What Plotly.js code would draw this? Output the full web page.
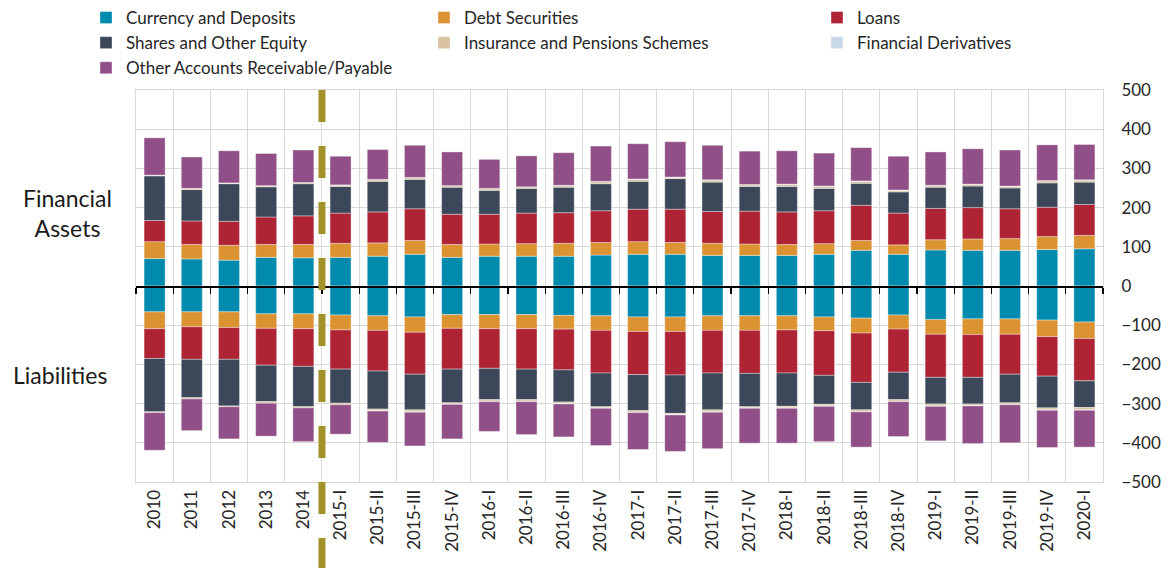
<!DOCTYPE html>
<html>
<head>
<meta charset="utf-8">
<script src="https://cdn.plot.ly/plotly-3.0.1.min.js"></script>
<style>html,body{margin:0;padding:0;background:#fff;}#chart{width:1170px;height:568px;}</style>
</head>
<body>
<div id="chart"></div>
<script>
const categories = ['2010','2011','2012','2013','2014','2015-I','2015-II','2015-III','2015-IV','2016-I','2016-II','2016-III','2016-IV','2017-I','2017-II','2017-III','2017-IV','2018-I','2018-II','2018-III','2018-IV','2019-I','2019-II','2019-III','2019-IV','2020-I'];

const seriesNames = ['Currency and Deposits','Debt Securities','Loans','Shares and Other Equity','Insurance and Pensions Schemes','Financial Derivatives','Other Accounts Receivable/Payable'];
const seriesColors = ['#008BAE','#DB9332','#AE2435','#3C4759','#D8C29F','#C9D8E7','#904F86'];
const seriesLegend = ['legend','legend2','legend3','legend','legend2','legend3','legend'];

// Financial assets (positive)
const assetsCurrency    = [70,69,66,73,72,73,76,81,73,76,76,76,79,81,81,78,78,78,81,91,81,92,91,91,93,95];
const assetsDebt        = [43,37,38,33,34,36,34,35,33,31,32,33,32,32,30,31,29,28,27,25,24,26,29,30,33,34];
const assetsLoans       = [54,60,61,70,73,77,79,81,77,76,78,78,81,83,85,81,84,83,84,90,81,80,80,76,75,79];
const assetsShares      = [114,80,96,77,82,68,78,75,69,61,63,65,69,71,78,75,63,65,57,56,54,54,55,53,62,57];
const assetsInsurance   = [2,3,2,3,3,4,4,4,4,4,4,4,5,5,3,5,4,5,5,5,4,4,4,4,5,5];
const assetsDerivatives = [0,0,0,0,0,0,1,1,0,1,0,1,1,1,1,1,1,1,1,1,1,1,1,1,1,1];
const assetsOther       = [95,80,82,82,83,73,76,82,86,74,79,83,90,90,90,88,85,85,84,85,86,85,90,92,91,90];

// Liabilities (negative)
const liabCurrency    = [-66,-66,-66,-71,-71,-74,-76,-79,-73,-73,-73,-75,-76,-79,-79,-76,-76,-76,-79,-82,-74,-86,-84,-84,-87,-92];
const liabDebt        = [-43,-38,-40,-37,-38,-38,-37,-39,-35,-36,-36,-35,-37,-37,-37,-37,-37,-36,-35,-38,-36,-37,-40,-39,-42,-42];
const liabLoans       = [-76,-83,-81,-94,-96,-100,-104,-107,-104,-101,-103,-104,-109,-110,-111,-109,-110,-110,-114,-126,-110,-110,-109,-102,-101,-108];
const liabShares      = [-136,-98,-119,-93,-103,-87,-97,-91,-86,-80,-78,-82,-86,-92,-98,-94,-85,-85,-74,-70,-70,-68,-68,-73,-81,-68];
const liabInsurance   = [-2,-3,-2,-4,-3,-4,-4,-5,-3,-4,-4,-4,-3,-4,-3,-5,-3,-4,-4,-4,-4,-5,-4,-4,-5,-6];
const liabDerivatives = [0,0,0,0,0,0,-1,-1,-1,-1,-1,-1,-1,-1,-1,-1,-1,-1,-1,-1,-1,-1,-1,-1,-1,-1];
const liabOther       = [-96,-81,-82,-84,-86,-75,-80,-86,-88,-76,-84,-84,-95,-94,-93,-93,-89,-89,-90,-90,-89,-88,-96,-97,-95,-94];

const yTicks = [500,400,300,200,100,0,-100,-200,-300,-400,-500];

const assets = [assetsCurrency,assetsDebt,assetsLoans,assetsShares,assetsInsurance,assetsDerivatives,assetsOther];
const liabs  = [liabCurrency,liabDebt,liabLoans,liabShares,liabInsurance,liabDerivatives,liabOther];

const FONT = 'Lato, "Open Sans", sans-serif';
const traces = [];
seriesNames.forEach((name, i) => {
  const common = {
    type: 'bar', x: categories, name: name, legendgroup: name, legend: seriesLegend[i],
    marker: {color: seriesColors[i], line: {color: 'rgba(255,255,255,0.45)', width: 0.8}},
    hoverinfo: 'x+y+name'
  };
  traces.push(Object.assign({}, common, {y: assets[i], showlegend: true}));
  traces.push(Object.assign({}, common, {y: liabs[i], showlegend: false}));
});

// helper axis for the black zero line with boundary ticks
traces.push({type:'scatter', x:[], y:[], xaxis:'x2', yaxis:'y', showlegend:false, hoverinfo:'skip'});

const n = categories.length;
const boundaries = categories.map((_, i) => i - 0.5).concat([n - 0.5]);
const legendFont = {family: FONT, size: 17, color: '#262626'};
const legendCommon = {orientation: 'v', xanchor: 'left', yref: 'container', y: 1.0, yanchor: 'top',
                      font: legendFont, bgcolor: 'rgba(0,0,0,0)', tracegroupgap: 0, itemclick: false};

const layout = {
  width: 1170, height: 568,
  margin: {l: 136, r: 67, t: 90, b: 86, autoexpand: false},
  paper_bgcolor: '#fff', plot_bgcolor: '#fff',
  font: {family: FONT, size: 17, color: '#262626'},
  barmode: 'relative',
  bargap: 0.435,
  xaxis: {
    type: 'category', categoryorder: 'array', categoryarray: categories,
    range: [-0.5, n - 0.5],
    tickson: 'boundaries', ticks: '', showgrid: true, gridcolor: '#D9D9D9', gridwidth: 1,
    tickangle: -90, tickfont: {family: FONT, size: 17, color: '#262626'},
    showline: true, linecolor: '#D9D9D9', linewidth: 1, mirror: true,
    zeroline: false, fixedrange: true
  },
  xaxis2: {
    overlaying: 'x', anchor: 'free', position: 0.5, side: 'bottom',
    range: [-0.5, n - 0.5], tickmode: 'array', tickvals: boundaries,
    ticks: 'outside', ticklen: 6, tickwidth: 1.2, tickcolor: '#000',
    showticklabels: false, showgrid: false, zeroline: false,
    showline: true, linecolor: '#000', linewidth: 1.5
  },
  yaxis: {
    side: 'right', range: [-500, 500], tickmode: 'array', tickvals: yTicks,
    showgrid: true, gridcolor: '#D9D9D9', gridwidth: 1, zeroline: false,
    showline: true, linecolor: '#D9D9D9', mirror: true, ticks: '',
    tickfont: {family: FONT, size: 17, color: '#262626'}, ticklabelstandoff: 14,
    fixedrange: true
  },
  legend:  Object.assign({}, legendCommon, {x: (86 - 136) / 967}),
  legend2: Object.assign({}, legendCommon, {x: (424 - 136) / 967}),
  legend3: Object.assign({}, legendCommon, {x: (817 - 136) / 967}),
  shapes: [{
    type: 'line', xref: 'paper', yref: 'paper',
    x0: 5 / n, x1: 5 / n, y0: 1, y1: -0.23,
    line: {color: '#A3912A', width: 7, dash: '32px,24px'}, layer: 'above'
  }],
  annotations: [
    {text: 'Financial<br>Assets', xref: 'paper', yref: 'paper', x: (67 - 136) / 967, y: (482 - 213) / 392,
     showarrow: false, font: {family: FONT, size: 23, color: '#1a1a1a'}, xanchor: 'center', yanchor: 'middle', align: 'center'},
    {text: 'Liabilities', xref: 'paper', yref: 'paper', x: (60 - 136) / 967, y: (482 - 375) / 392,
     showarrow: false, font: {family: FONT, size: 23, color: '#1a1a1a'}, xanchor: 'center', yanchor: 'middle'}
  ],
  showlegend: true
};

Plotly.newPlot('chart', traces, layout, {displayModeBar: false, staticPlot: true});
</script>
</body>
</html>
